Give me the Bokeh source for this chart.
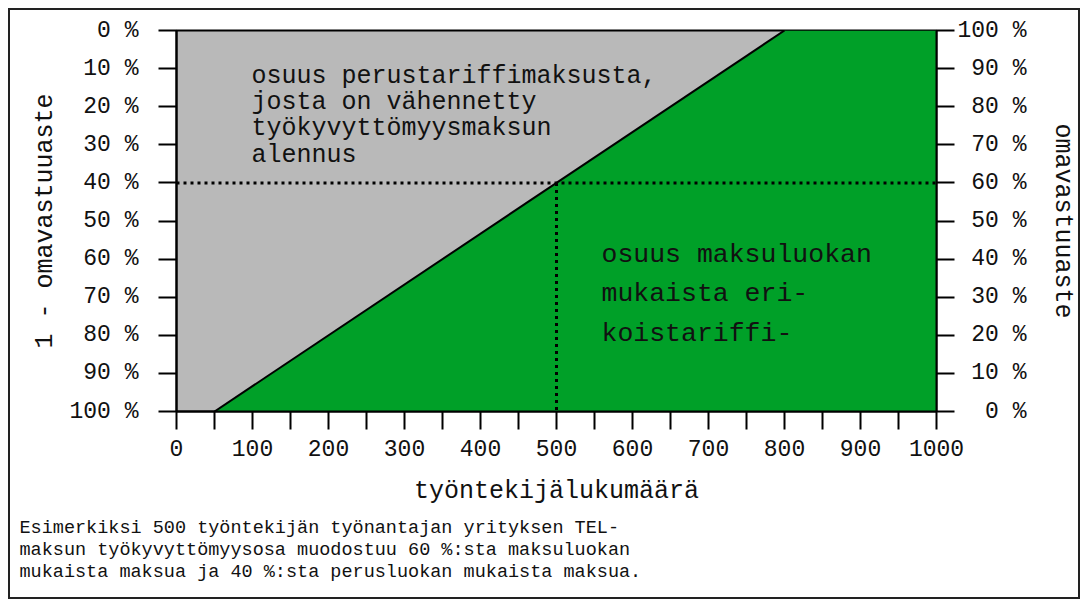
import math
from bokeh.plotting import figure
from bokeh.models import Range1d, LinearAxis, FixedTicker, Label, Title
from bokeh.embed import file_html
from bokeh.resources import INLINE

# ---- data ----
employee_ticks = [0, 100, 200, 300, 400, 500, 600, 700, 800, 900, 1000]
employee_minor_ticks = [50, 150, 250, 350, 450, 550, 650, 750, 850, 950]
share_ticks = [0, 10, 20, 30, 40, 50, 60, 70, 80, 90, 100]
left_tick_labels = ["0 %", "10 %", "20 %", "30 %", "40 %", "50 %",
                    "60 %", "70 %", "80 %", "90 %", "100 %"]
right_tick_labels = ["0 %", "10 %", "20 %", "30 %", "40 %", "50 %",
                     "60 %", "70 %", "80 %", "90 %", "100 %"]
boundary_employees = [50, 800]      # where (1 - omavastuuaste) is 100 % and 0 %
boundary_share = [100, 0]
example_employees = 500
example_share = 40
employees_max = 1000

gray_text = ["osuus perustariffimaksusta,", "josta on vähennetty",
             "työkyvyttömyysmaksun", "alennus"]
green_text = ["osuus maksuluokan", "mukaista eri-", "koistariffi-"]
footer_text = ["Esimerkiksi 500 työntekijän työnantajan yrityksen TEL-",
               "maksun työkyvyttömyysosa muodostuu 60 %:sta maksuluokan",
               "mukaista maksua ja 40 %:sta perusluokan mukaista maksua."]
left_title = "1 - omavastuuaste"
right_title = "omavastuuaste"
x_title = "työntekijälukumäärä"

FONT = "Liberation Mono"
GRAY = "#b9b9b9"
GREEN = "#00a028"
TEXT = "#111111"

p = figure(width=1072, height=591, output_backend="svg", toolbar_location=None,
           x_range=Range1d(0, employees_max), y_range=Range1d(100, 0),
           min_border_left=166, min_border_right=146, min_border_top=20,
           min_border_bottom=190, background_fill_color=GRAY,
           border_fill_color="white", outline_line_color="black",
           outline_line_width=2, x_axis_location=None, y_axis_location=None)
p.styles = {"border": "2px solid #222", "margin": "8px"}
p.grid.visible = False

# green area
p.patch(boundary_employees + [employees_max, employees_max],
        boundary_share + [0, 100], fill_color=GREEN, line_color=None)
p.line(boundary_employees, boundary_share, line_color="black", line_width=2)

# dotted example lines
p.line([0, employees_max], [example_share, example_share], line_color="black",
       line_width=3, line_dash="3 4")
p.line([example_employees, example_employees], [example_share, 100],
       line_color="black", line_width=3, line_dash="3 4")

def style_axis(ax, size):
    ax.axis_line_width = 2
    ax.axis_line_color = "black"
    ax.major_tick_line_width = 2
    ax.major_tick_out = 18
    ax.major_tick_in = 0
    ax.major_label_text_font = FONT
    ax.major_label_text_font_size = size
    ax.major_label_text_color = TEXT
    ax.axis_label_text_font = FONT
    ax.axis_label_text_font_size = "25px"
    ax.axis_label_text_font_style = "normal"
    ax.axis_label_text_color = TEXT

# bottom axis
xa = LinearAxis(ticker=FixedTicker(ticks=employee_ticks, minor_ticks=employee_minor_ticks),
                axis_label=x_title)
style_axis(xa, "23px")
xa.minor_tick_out = 18
xa.minor_tick_in = 0
xa.minor_tick_line_width = 2
xa.major_label_standoff = 10
xa.axis_label_standoff = 18
p.add_layout(xa, "below")

# left axis
ya = LinearAxis(ticker=FixedTicker(ticks=share_ticks, minor_ticks=[]), axis_label=left_title)
style_axis(ya, "23px")
ya.major_label_overrides = {v: t for v, t in zip(share_ticks, left_tick_labels)}
ya.major_label_standoff = 20
ya.axis_label_standoff = 6
ya.minor_tick_line_color = None
p.add_layout(ya, "left")

# right axis
p.extra_y_ranges = {"right": Range1d(0, 100)}
ra = LinearAxis(y_range_name="right", ticker=FixedTicker(ticks=share_ticks, minor_ticks=[]),
                axis_label=right_title)
style_axis(ra, "23px")
width = max(len(t) for t in right_tick_labels)
ra.major_label_overrides = {v: "\u00a0" * (width - len(t)) + t
                            for v, t in zip(share_ticks, right_tick_labels)}
ra.major_label_standoff = 3
ra.axis_label_standoff = 18
ra.minor_tick_line_color = None
p.add_layout(ra, "right")

def add_label(text, x, y, size):
    p.add_layout(Label(x=x, y=y, x_units="screen", y_units="screen", text=text,
                       text_font=FONT, text_font_size=size, text_color=TEXT,
                       text_align="left", text_baseline="alphabetic"))

# in-plot texts (screen offsets from frame bottom-left)
for i, t in enumerate(gray_text):
    add_label(t, 75, 335 - i * 26.2, "25px")
for i, t in enumerate(green_text):
    add_label(t, 425, 157 - i * 39.5, "26.5px")

# footer (below the x axis)
p.add_layout(Title(text="\n".join(footer_text), align="left", offset=-157,
                   text_font=FONT, text_font_size="18.5px", text_font_style="normal",
                   text_color=TEXT, text_line_height=1.05, standoff=16), "below")

open("out.html", "w").write(file_html(p, INLINE))
